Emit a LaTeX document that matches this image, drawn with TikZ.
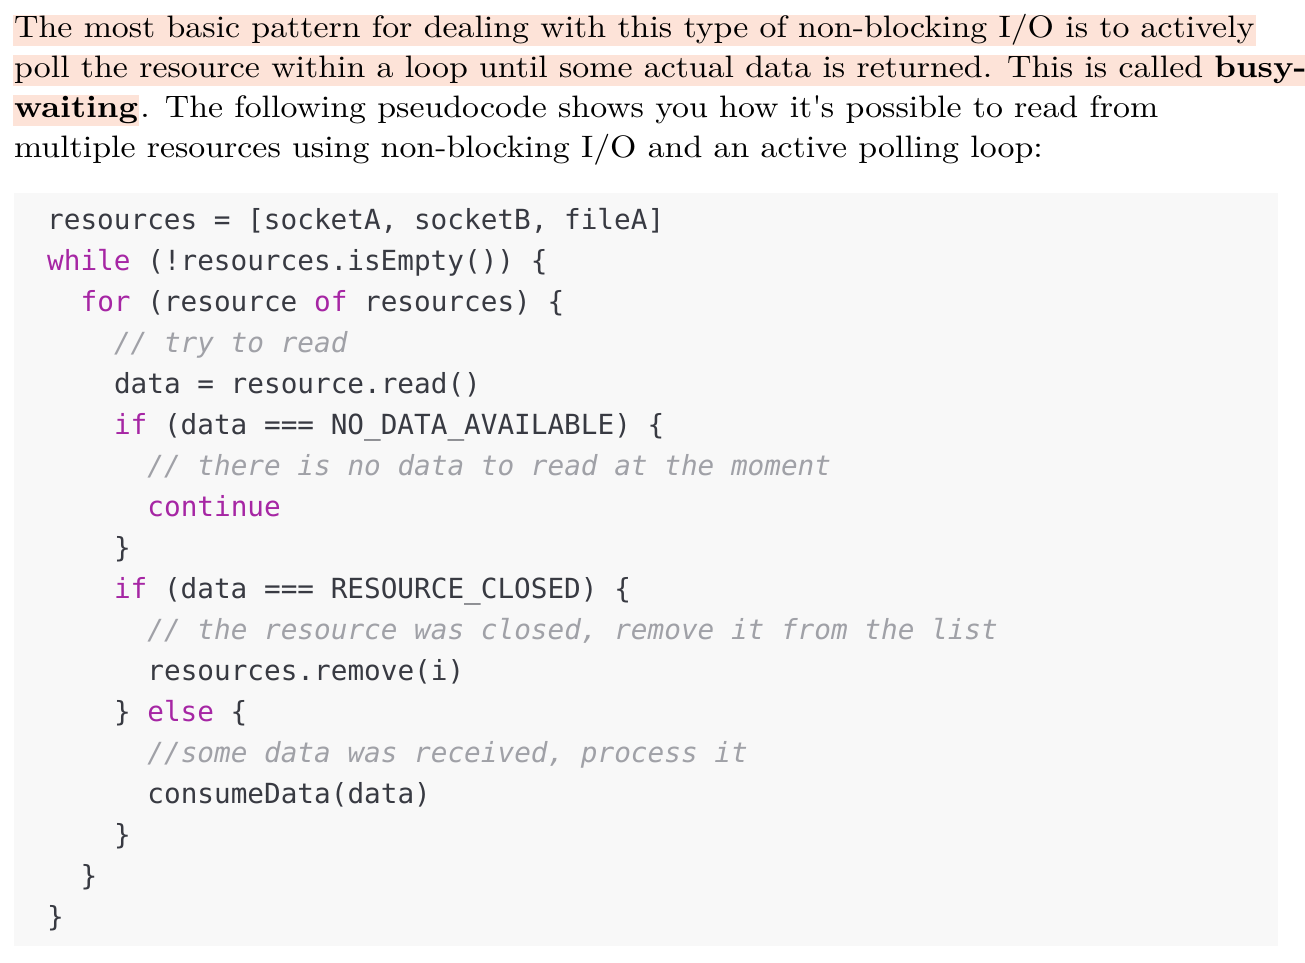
\documentclass[tikz,border=0pt]{standalone}
\usepackage{fontspec}
\setmainfont{lmroman10-regular.otf}[BoldFont=lmroman10-bold.otf,FakeStretch=1.092]
\setmonofont{DejaVu Sans Mono}
\definecolor{hl}{HTML}{FDE3D8}
\definecolor{codebg}{HTML}{F8F8F8}
\definecolor{kw}{HTML}{A626A4}
\definecolor{cm}{HTML}{A0A1A7}
\definecolor{tx}{HTML}{383A42}
\tikzset{
 prose/.style={anchor=base west,inner xsep=1pt,inner ysep=0pt,text height=22pt,text depth=9pt,font=\fontsize{31}{35}\selectfont},
 hlt/.style={prose,fill=hl},
 code/.style={anchor=base west,inner sep=0pt,text=tx,font=\fontsize{27.7}{33}\ttfamily}
}
\newcommand{\kwd}[1]{\textcolor{kw}{#1}}
\newcommand{\cmt}[1]{\textcolor{cm}{\itshape #1}}
\begin{document}
\begin{tikzpicture}[x=1pt,y=-1pt]
\useasboundingbox (0,0) rectangle (1305,962);
\fill[codebg] (14,193) rectangle (1278,946);
\node[hlt] (p1) at (13,37) {The most basic pattern for dealing with this type of non-blocking I/O is to actively};
\node[hlt] (p2) at (13,77) {poll the resource within a loop until some actual data is returned. This is called \textbf{busy-}};
\node[hlt] (p3a) at (13,117) {\textbf{waiting}};
\node[prose,anchor=base west] (p3b) at (p3a.base east) {. The following pseudocode shows you how it\textquotesingle s possible to read from};
\node[prose] (p4) at (13,157) {multiple resources using non-blocking I/O and an active polling loop:};
\def\cw{16.7}
\foreach \lv/\t [count=\i from 0] in {
 0/{resources = [socketA, socketB, fileA]},
 0/{\kwd{while} (!resources.isEmpty()) \{},
 1/{\kwd{for} (resource \kwd{of} resources) \{},
 2/{\cmt{// try to read}},
 2/{data = resource.read()},
 2/{\kwd{if} (data === NO\_DATA\_AVAILABLE) \{},
 3/{\cmt{// there is no data to read at the moment}},
 3/{\kwd{continue}},
 2/{\}},
 2/{\kwd{if} (data === RESOURCE\_CLOSED) \{},
 3/{\cmt{// the resource was closed, remove it from the list}},
 3/{resources.remove(i)},
 2/{\} \kwd{else} \{},
 3/{\cmt{//some data was received, process it}},
 3/{consumeData(data)},
 2/{\}},
 1/{\}},
 0/{\}}}
 { \node[code] (c\i) at ({47+2*\cw*\lv},{229+41*\i}) {\t}; }
\end{tikzpicture}
\end{document}
